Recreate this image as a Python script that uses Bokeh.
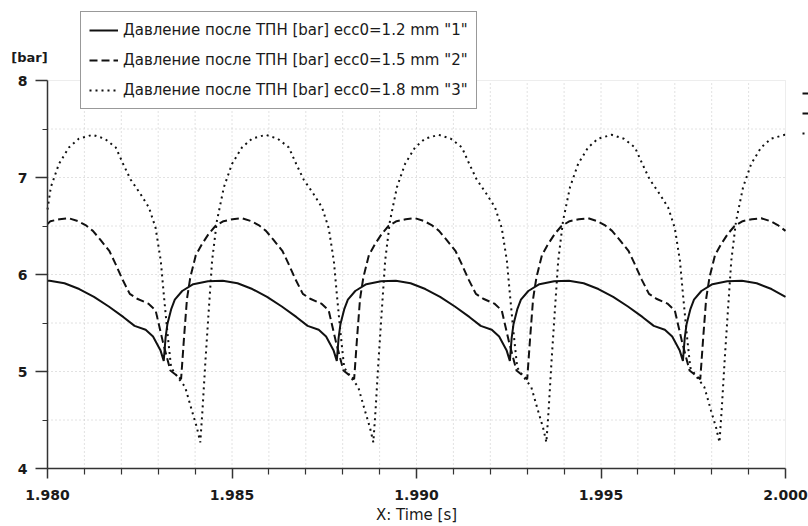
from bokeh.plotting import figure
from bokeh.models import (Range1d, FixedTicker, PrintfTickFormatter, Legend, LegendItem, Label,
                          BoxAnnotation)
from bokeh.core.properties import value
from bokeh.embed import file_html
from bokeh.resources import INLINE

# ---- data ----
t_1 = [1.98000, 1.98006, 1.98046, 1.98086, 1.98126, 1.98166, 1.98206, 1.98236, 1.98266, 1.98286, 1.98306,
       1.98315, 1.98320, 1.98325, 1.98335, 1.98345, 1.98365, 1.98395, 1.98435, 1.98475, 1.98515, 1.98555,
       1.98595, 1.98635, 1.98675, 1.98705, 1.98735, 1.98755, 1.98775,
       1.98784, 1.98789, 1.98794, 1.98804, 1.98814, 1.98834, 1.98864, 1.98904, 1.98944, 1.98984, 1.99024,
       1.99064, 1.99104, 1.99144, 1.99174, 1.99204, 1.99224, 1.99244,
       1.99253, 1.99258, 1.99263, 1.99273, 1.99283, 1.99303, 1.99333, 1.99373, 1.99413, 1.99453, 1.99493,
       1.99533, 1.99573, 1.99613, 1.99643, 1.99673, 1.99693, 1.99713,
       1.99722, 1.99727, 1.99732, 1.99742, 1.99752, 1.99772, 1.99802, 1.99842, 1.99882, 1.99922, 1.99962,
       2.00000]
p_1 = [5.935, 5.935, 5.91, 5.85, 5.77, 5.67, 5.56, 5.47, 5.43, 5.36, 5.22,
       5.11, 5.35, 5.49, 5.64, 5.74, 5.83, 5.90, 5.93, 5.935, 5.91, 5.85,
       5.77, 5.67, 5.56, 5.47, 5.43, 5.36, 5.22,
       5.11, 5.35, 5.49, 5.64, 5.74, 5.83, 5.90, 5.93, 5.935, 5.91, 5.85,
       5.77, 5.67, 5.56, 5.47, 5.43, 5.36, 5.22,
       5.11, 5.35, 5.49, 5.64, 5.74, 5.83, 5.90, 5.93, 5.935, 5.91, 5.85,
       5.77, 5.67, 5.56, 5.47, 5.43, 5.36, 5.22,
       5.11, 5.35, 5.49, 5.64, 5.74, 5.83, 5.90, 5.93, 5.935, 5.91, 5.85,
       5.77]

t_2 = [1.98000, 1.98008, 1.98033, 1.98058, 1.98083, 1.98103, 1.98123, 1.98143, 1.98168, 1.98183, 1.98203,
       1.98223, 1.98243, 1.98273, 1.98293, 1.98313, 1.98333, 1.98353,
       1.98362, 1.98370, 1.98378, 1.98387, 1.98402, 1.98418, 1.98437, 1.98455, 1.98477, 1.98502, 1.98527,
       1.98552, 1.98572, 1.98592, 1.98612, 1.98637, 1.98652, 1.98672, 1.98692, 1.98712, 1.98742, 1.98762,
       1.98782, 1.98802, 1.98822,
       1.98831, 1.98839, 1.98847, 1.98856, 1.98871, 1.98887, 1.98906, 1.98924, 1.98946, 1.98971, 1.98996,
       1.99021, 1.99041, 1.99061, 1.99081, 1.99106, 1.99121, 1.99141, 1.99161, 1.99181, 1.99211, 1.99231,
       1.99251, 1.99271, 1.99291,
       1.99300, 1.99308, 1.99316, 1.99325, 1.99340, 1.99356, 1.99375, 1.99393, 1.99415, 1.99440, 1.99465,
       1.99490, 1.99510, 1.99530, 1.99550, 1.99575, 1.99590, 1.99610, 1.99630, 1.99650, 1.99680, 1.99700,
       1.99720, 1.99740, 1.99760,
       1.99769, 1.99777, 1.99785, 1.99794, 1.99809, 1.99825, 1.99844, 1.99862, 1.99884, 1.99909, 1.99934,
       1.99959, 1.99979, 2.00000]
p_2 = [6.52, 6.55, 6.57, 6.58, 6.55, 6.51, 6.45, 6.36, 6.24, 6.12, 5.95,
       5.80, 5.75, 5.70, 5.63, 5.30, 5.01, 4.95,
       4.92, 5.35, 5.75, 5.97, 6.20, 6.31, 6.42, 6.50, 6.55, 6.57, 6.58,
       6.55, 6.51, 6.45, 6.36, 6.24, 6.12, 5.95, 5.80, 5.75, 5.70, 5.63,
       5.30, 5.01, 4.95,
       4.92, 5.35, 5.75, 5.97, 6.20, 6.31, 6.42, 6.50, 6.55, 6.57, 6.58,
       6.55, 6.51, 6.45, 6.36, 6.24, 6.12, 5.95, 5.80, 5.75, 5.70, 5.63,
       5.30, 5.01, 4.95,
       4.92, 5.35, 5.75, 5.97, 6.20, 6.31, 6.42, 6.50, 6.55, 6.57, 6.58,
       6.55, 6.51, 6.45, 6.36, 6.24, 6.12, 5.95, 5.80, 5.75, 5.70, 5.63,
       5.30, 5.01, 4.95,
       4.92, 5.35, 5.75, 5.97, 6.20, 6.31, 6.42, 6.50, 6.55, 6.57, 6.58,
       6.55, 6.51, 6.45]

t_3 = [1.98000, 1.98009, 1.98031, 1.98058, 1.98085, 1.98122, 1.98155, 1.98185, 1.98205, 1.98225, 1.98252,
       1.98275, 1.98293, 1.98307, 1.98315, 1.98325, 1.98335, 1.98355, 1.98373, 1.98391, 1.98405,
       1.98414, 1.98420, 1.98428, 1.98437, 1.98446, 1.98459, 1.98478, 1.98500, 1.98527, 1.98554, 1.98591,
       1.98624, 1.98654, 1.98674, 1.98694, 1.98721, 1.98744, 1.98762, 1.98776, 1.98784, 1.98794, 1.98804,
       1.98824, 1.98842, 1.98860, 1.98874,
       1.98883, 1.98889, 1.98897, 1.98906, 1.98915, 1.98928, 1.98947, 1.98969, 1.98996, 1.99023, 1.99060,
       1.99093, 1.99123, 1.99143, 1.99163, 1.99190, 1.99213, 1.99231, 1.99245, 1.99253, 1.99263, 1.99273,
       1.99293, 1.99311, 1.99329, 1.99343,
       1.99352, 1.99358, 1.99366, 1.99375, 1.99384, 1.99397, 1.99416, 1.99438, 1.99465, 1.99492, 1.99529,
       1.99562, 1.99592, 1.99612, 1.99632, 1.99659, 1.99682, 1.99700, 1.99714, 1.99722, 1.99732, 1.99742,
       1.99762, 1.99780, 1.99798, 1.99812,
       1.99821, 1.99827, 1.99835, 1.99844, 1.99853, 1.99866, 1.99885, 1.99907, 1.99934, 1.99961, 1.99998,
       2.00000]
p_3 = [6.67, 6.90, 7.14, 7.31, 7.40, 7.44, 7.40, 7.31, 7.14, 6.98, 6.83,
       6.69, 6.48, 6.14, 5.80, 5.40, 5.04, 4.93, 4.84, 4.60, 4.42,
       4.27, 4.60, 5.11, 5.63, 6.14, 6.55, 6.90, 7.14, 7.31, 7.40, 7.44,
       7.40, 7.31, 7.14, 6.98, 6.83, 6.69, 6.48, 6.14, 5.80, 5.40, 5.04,
       4.93, 4.84, 4.60, 4.42,
       4.27, 4.60, 5.11, 5.63, 6.14, 6.55, 6.90, 7.14, 7.31, 7.40, 7.44,
       7.40, 7.31, 7.14, 6.98, 6.83, 6.69, 6.48, 6.14, 5.80, 5.40, 5.04,
       4.93, 4.84, 4.60, 4.42,
       4.27, 4.60, 5.11, 5.63, 6.14, 6.55, 6.90, 7.14, 7.31, 7.40, 7.44,
       7.40, 7.31, 7.14, 6.98, 6.83, 6.69, 6.48, 6.14, 5.80, 5.40, 5.04,
       4.93, 4.84, 4.60, 4.42,
       4.27, 4.60, 5.11, 5.63, 6.14, 6.55, 6.90, 7.14, 7.31, 7.40, 7.44,
       7.44]

series_labels = ['Давление после ТПН [bar] ecc0=1.2 mm "1"',
                 'Давление после ТПН [bar] ecc0=1.5 mm "2"',
                 'Давление после ТПН [bar] ecc0=1.8 mm "3"']

x_major = [1.980, 1.985, 1.990, 1.995, 2.000]
x_minor = [1.981, 1.982, 1.983, 1.984, 1.986, 1.987, 1.988, 1.989,
           1.991, 1.992, 1.993, 1.994, 1.996, 1.997, 1.998, 1.999]
y_major = [4, 5, 6, 7, 8]
y_minor = [4.5, 5.5, 6.5, 7.5]

FONT = "DejaVu Sans"
INK = "#1a1a1a"

# ---- layout (pixels) ----
W, H = 808, 526
AX_L, AX_R = 47, 785      # screen x of first / last x tick
AX_T, AX_B = 80, 468      # screen y of top / bottom y tick

# the drawing frame covers the whole canvas; axes are pinned at the data box edges
xpx = (x_major[-1] - x_major[0]) / (AX_R - AX_L)
ypx = (y_major[-1] - y_major[0]) / (AX_B - AX_T)
x_range = Range1d(x_major[0] - AX_L * xpx, x_major[-1] + (W - AX_R) * xpx)
y_range = Range1d(y_major[0] - (H - AX_B) * ypx, y_major[-1] + AX_T * ypx)

p = figure(width=W, height=H, output_backend="svg", toolbar_location=None,
           x_range=x_range, y_range=y_range,
           min_border_left=0, min_border_right=0, min_border_top=0, min_border_bottom=0)
p.outline_line_color = None
p.background_fill_color = "white"
p.border_fill_color = "white"
p.xgrid.visible = False
p.ygrid.visible = False

# axes box outline (light grey) and dotted grid inside it
p.add_layout(BoxAnnotation(left=x_major[0], right=x_major[-1], bottom=y_major[0], top=y_major[-1],
                           fill_alpha=0, line_color="#c4c4c4", line_width=1, level="underlay"))
gx = x_minor + x_major[1:-1]
gy = y_minor + y_major[1:-1]
p.segment(x0=gx, y0=[y_major[0]] * len(gx), x1=gx, y1=[y_major[-1]] * len(gx),
          line_color="#c4c4c4", line_width=1, line_dash="1 3")
p.segment(x0=[x_major[0]] * len(gy), y0=gy, x1=[x_major[-1]] * len(gy), y1=gy,
          line_color="#c4c4c4", line_width=1, line_dash="1 3")

# axes
p.xaxis.ticker = FixedTicker(ticks=x_major, minor_ticks=x_minor)
p.xaxis.formatter = PrintfTickFormatter(format="%.3f")
p.xaxis.bounds = (x_major[0], x_major[-1])
p.xaxis.fixed_location = y_major[0]
p.yaxis.ticker = FixedTicker(ticks=y_major, minor_ticks=y_minor)
p.yaxis.bounds = (y_major[0], y_major[-1])
p.yaxis.fixed_location = x_major[0]
p.xaxis.axis_label = "X: Time [s]"
for ax in (p.xaxis[0], p.yaxis[0]):
    ax.axis_line_color = "#333333"
    ax.axis_line_width = 1.5
    ax.major_tick_line_color = "#333333"
    ax.minor_tick_line_color = "#333333"
    ax.major_tick_line_width = 1.5
    ax.minor_tick_line_width = 1.2
    ax.major_tick_in = 0
    ax.minor_tick_in = 0
    ax.major_label_text_font = FONT
    ax.major_label_text_font_style = "bold"
    ax.major_label_text_font_size = "14px"
    ax.major_label_text_color = INK
p.xaxis.major_tick_out = 10
p.xaxis.minor_tick_out = 6
p.yaxis.major_tick_out = 12
p.yaxis.minor_tick_out = 5
p.xaxis.major_label_standoff = 11
p.yaxis.major_label_standoff = 8
p.xaxis.axis_label_text_font = FONT
p.xaxis.axis_label_text_font_style = "normal"
p.xaxis.axis_label_text_font_size = "15px"
p.xaxis.axis_label_text_color = INK
p.xaxis.axis_label_standoff = 3

# lines
r1 = p.line(t_1, p_1, line_color="#111111", line_width=2)
r2 = p.line(t_2, p_2, line_color="#111111", line_width=2, line_dash="8 4")
r3 = p.line(t_3, p_3, line_color="#111111", line_width=2, line_dash="2 4")

legend = Legend(items=[LegendItem(label=series_labels[0], renderers=[r1]),
                       LegendItem(label=series_labels[1], renderers=[r2]),
                       LegendItem(label=series_labels[2], renderers=[r3])],
                location=(80, H - 109), margin=0, padding=8, spacing=10,
                glyph_width=29, glyph_height=20, label_height=20, label_standoff=5,
                label_text_font=FONT, label_text_font_size="15px", label_text_color=INK,
                border_line_color="#333333", border_line_width=1,
                background_fill_color="white", background_fill_alpha=1)
p.add_layout(legend, "center")

# second legend, only its glyph starts are visible at the right edge
legend2 = Legend(items=[LegendItem(label=value(" "), renderers=[r1]),
                        LegendItem(label=value(" "), renderers=[r2]),
                        LegendItem(label=value(" "), renderers=[r3])],
                 location=(802, H - 140), margin=0, padding=0, spacing=6,
                 glyph_width=29, glyph_height=14, label_height=14,
                 border_line_color=None, background_fill_alpha=0)
p.add_layout(legend2, "center")

p.add_layout(Label(x=29, y=H - 57, x_units="screen", y_units="screen", text="[bar]",
                   text_font=FONT, text_font_style="bold", text_font_size="13px",
                   text_color=INK, text_align="center", text_baseline="middle"))

open("out.html", "w").write(file_html(p, INLINE))
